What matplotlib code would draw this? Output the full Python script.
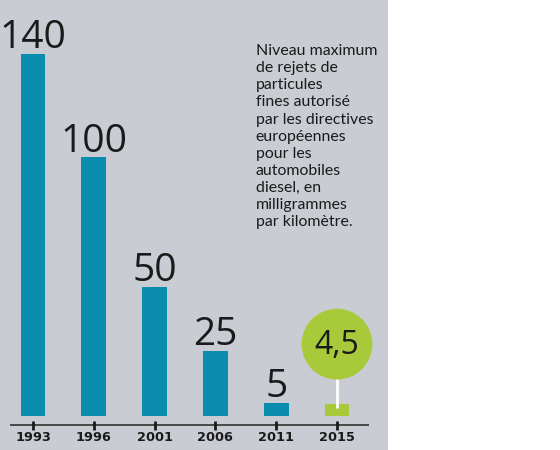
import numpy as np
import matplotlib
matplotlib.use("Agg")
import matplotlib.pyplot as plt
from matplotlib.patches import Rectangle

# ---------------- DATA ----------------
years = ["1993", "1996", "2001", "2006", "2011", "2015"]
limits = [140, 100, 50, 25, 5, 4.5]
labels = ["140", "100", "50", "25", "5", "4,5"]
note = ("Niveau maximum\nde rejets de\nparticules\nfines autorisé\npar les directives\n"
        "européennes\npour les\nautomobiles\ndiesel, en\nmilligrammes\npar kilomètre.")

# ---------------- STYLE ----------------
BG = "#c9ccd3"
TEAL = "#0b8db0"
GREEN = "#a8c93a"
INK = "#1a1a1a"
plt.rcParams["font.family"] = ["Lato", "DejaVu Sans"]
NUM_FONT = ["Open Sans", "Lato", "DejaVu Sans"]

fig = plt.figure(figsize=(5.6, 4.5), dpi=100)
fig.patch.set_facecolor("white")
ax = fig.add_axes([0, 0, 1, 1])
ax.set_axis_off()

# pixel-ish mapping: slot 61 px wide, 2.586 px per mg
ax.set_xlim(-0.543, 8.668)
ax.set_ylim(-13.15, 160.9)

ax.add_patch(Rectangle((0, 0), 0.693, 1, transform=ax.transAxes,
                       facecolor=BG, edgecolor="none", zorder=0))

x = np.arange(len(years))
colors = [TEAL] * (len(years) - 1) + [GREEN]
ax.bar(x, limits, width=0.41, color=colors, zorder=2)

# axis line and ticks
ax.hlines(-3.5, -0.38, 5.53, color="#333333", lw=1.2, zorder=2)
ax.vlines(x, -1.9, -5.4, color=INK, lw=2, zorder=2)
for xi, yr in zip(x, years):
    ax.text(xi, -8.3, yr, ha="center", va="center", fontsize=9.3,
            fontweight="bold", family="DejaVu Sans", color=INK)

# value labels
for xi, v, lab in zip(x[:-1], limits[:-1], labels[:-1]):
    ax.text(xi, v + 2.3, lab, ha="center", va="baseline", family=NUM_FONT,
            fontsize=28, fontweight="normal", color=INK)

# highlighted last value
last = len(years) - 1
ax.vlines(x[last], 3.1, 22, color="white", lw=2, zorder=3)
ax.scatter([x[last]], [27.8], s=2600, color=GREEN, zorder=4, edgecolors="none")
ax.text(x[last], 27.4, labels[last], ha="center", va="center", family=NUM_FONT,
        fontsize=23, fontweight="normal", color=INK, zorder=5)

ax.text(3.66, 143.8, note, ha="left", va="top", fontsize=11.4,
        color=INK, linespacing=1.28)

fig.savefig("out.png", dpi=100, facecolor=fig.get_facecolor())
